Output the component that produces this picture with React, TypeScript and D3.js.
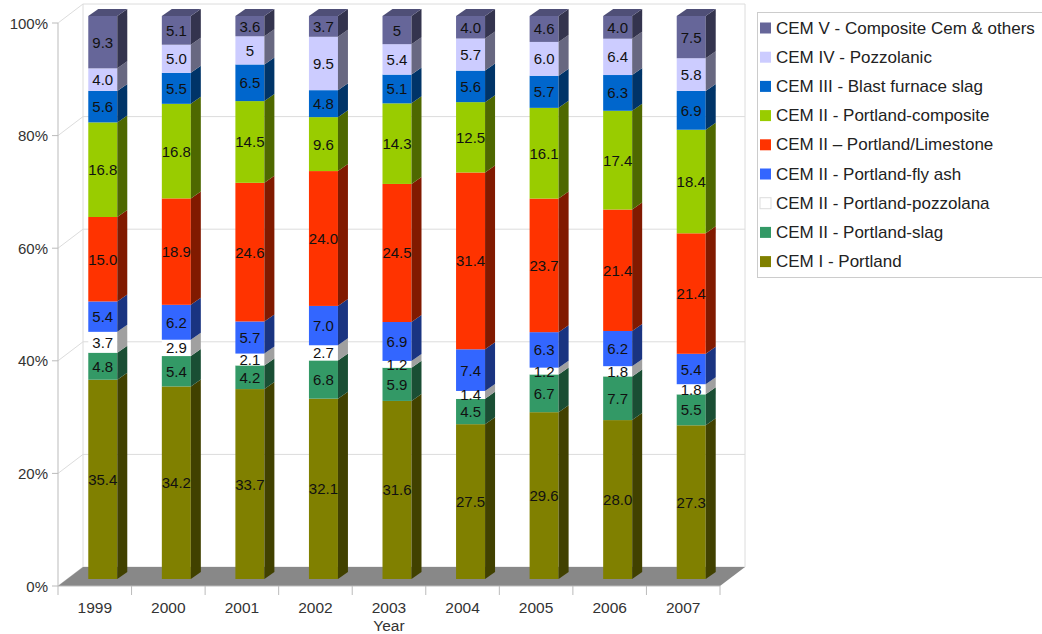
import React from "react";
import * as d3 from "d3";

const years = ["1999", "2000", "2001", "2002", "2003", "2004", "2005", "2006", "2007"];

// bottom to top
const seriesNames = [
  "CEM I - Portland",
  "CEM II - Portland-slag",
  "CEM II - Portland-pozzolana",
  "CEM II - Portland-fly ash",
  "CEM II – Portland/Limestone",
  "CEM II - Portland-composite",
  "CEM III - Blast furnace slag",
  "CEM IV - Pozzolanic",
  "CEM V - Composite Cem & others",
];

const cemI = ["35.4", "34.2", "33.7", "32.1", "31.6", "27.5", "29.6", "28.0", "27.3"];
const slag = ["4.8", "5.4", "4.2", "6.8", "5.9", "4.5", "6.7", "7.7", "5.5"];
const pozzolana = ["3.7", "2.9", "2.1", "2.7", "1.2", "1.4", "1.2", "1.8", "1.8"];
const flyAsh = ["5.4", "6.2", "5.7", "7.0", "6.9", "7.4", "6.3", "6.2", "5.4"];
const limestone = ["15.0", "18.9", "24.6", "24.0", "24.5", "31.4", "23.7", "21.4", "21.4"];
const composite = ["16.8", "16.8", "14.5", "9.6", "14.3", "12.5", "16.1", "17.4", "18.4"];
const blastFurnace = ["5.6", "5.5", "6.5", "4.8", "5.1", "5.6", "5.7", "6.3", "6.9"];
const pozzolanic = ["4.0", "5.0", "5", "9.5", "5.4", "5.7", "6.0", "6.4", "5.8"];
const cemV = ["9.3", "5.1", "3.6", "3.7", "5", "4.0", "4.6", "4.0", "7.5"];

const seriesLabels = [cemI, slag, pozzolana, flyAsh, limestone, composite, blastFurnace, pozzolanic, cemV];

const seriesColors = [
  "#808000",
  "#339966",
  "#ffffff",
  "#3366ff",
  "#ff3300",
  "#99cc00",
  "#0066cc",
  "#ccccff",
  "#666699",
];

const yTicks = [0, 20, 40, 60, 80, 100];

const W = 1042;
const H = 634;
const X0 = 58;
const X1 = 720;
const Y0 = 586;
const Y1 = 23;
const DX = 25;
const DY = -19;
const BAR_W = 29;
const BAR_SHIFT = 8;
const BDX = 10;
const BDY = -7;
const FRONT_DY = -7;
const FONT = "'Liberation Sans', Arial, sans-serif";

export default function App() {
  const keys = seriesNames.map((_, i) => "s" + i);
  const rows = years.map((y, j) => {
    const r: any = { year: y };
    keys.forEach((k, i) => (r[k] = parseFloat(seriesLabels[i][j])));
    return r;
  });
  const stacked = d3.stack().keys(keys).offset(d3.stackOffsetExpand)(rows);

  const x = d3.scaleBand().domain(years).range([X0, X1]).paddingInner(0).paddingOuter(0);
  const y = d3.scaleLinear().domain([0, 100]).range([Y0, Y1]);

  const pts = (arr: number[][]) => arr.map((p) => p.join(",")).join(" ");

  const bars: React.ReactNode[] = [];
  const labels: React.ReactNode[] = [];
  years.forEach((yr, j) => {
    const bx0 = (x(yr) as number) + (x.bandwidth() - BAR_W) / 2 + BAR_SHIFT;
    const bx1 = bx0 + BAR_W;
    stacked.forEach((s, i) => {
      const d = s[j];
      const yb = y(d[0] * 100) + FRONT_DY;
      const yt = y(d[1] * 100) + FRONT_DY;
      const c = seriesColors[i];
      const side = d3.color(c)!.darker(i === 2 ? 1.3 : 1.9).formatHex();
      bars.push(
        <g key={`b${j}-${i}`}>
          <rect x={bx0} y={yt} width={BAR_W} height={Math.max(0, yb - yt)} fill={c} />
          <polygon
            points={pts([
              [bx1, yb],
              [bx1 + BDX, yb + BDY],
              [bx1 + BDX, yt + BDY],
              [bx1, yt],
            ])}
            fill={side}
          />
        </g>
      );
      if (i === stacked.length - 1) {
        bars.push(
          <polygon
            key={`t${j}`}
            points={pts([
              [bx0, yt],
              [bx0 + BDX, yt + BDY],
              [bx1 + BDX, yt + BDY],
              [bx1, yt],
            ])}
            fill={d3.color(c)!.darker(0.7).formatHex()}
          />
        );
      }
      labels.push(
        <text
          key={`l${j}-${i}`}
          x={(bx0 + bx1) / 2}
          y={(yb + yt) / 2}
          textAnchor="middle"
          dominantBaseline="central"
          fontSize={15}
          fill="#111"
          fontFamily={FONT}
        >
          {seriesLabels[i][j]}
        </text>
      );
    });
  });

  const legendOrder = seriesNames.map((n, i) => ({ n, c: seriesColors[i] })).reverse();

  return (
    <svg
      width={W}
      height={H}
      viewBox={`0 0 ${W} ${H}`}
      style={{ position: "absolute", left: 0, top: 0, background: "#fff" }}
      fontFamily={FONT}
    >
      {/* back wall & left wall */}
      <g stroke="#dcdcdc" strokeWidth={1} fill="none">
        {yTicks.map((t) => (
          <polyline
            key={t}
            points={pts([
              [X0, y(t)],
              [X0 + DX, y(t) + DY],
              [X1 + DX, y(t) + DY],
            ])}
          />
        ))}
        <line x1={X0 + DX} x2={X0 + DX} y1={y(100) + DY} y2={y(0) + DY} />
        <line x1={X1 + DX} x2={X1 + DX} y1={y(100) + DY} y2={y(0) + DY} />
      </g>
      {/* floor */}
      <polygon
        points={pts([
          [X0, Y0],
          [X1, Y0],
          [X1 + DX, Y0 + DY],
          [X0 + DX, Y0 + DY],
        ])}
        fill="#888888"
      />
      {/* axes */}
      <g stroke="#bbbbbb" strokeWidth={1}>
        <line x1={X0} x2={X0} y1={y(100)} y2={Y0} />
        <line x1={X0} x2={X1} y1={Y0} y2={Y0} />
        {yTicks.map((t) => (
          <line key={t} x1={X0 - 6} x2={X0} y1={y(t)} y2={y(t)} />
        ))}
        {years.concat(["end"]).map((yr, j) => {
          const xx = X0 + j * x.bandwidth();
          return <line key={yr} x1={xx} x2={xx} y1={Y0} y2={Y0 + 9} />;
        })}
      </g>
      {yTicks.map((t) => (
        <text
          key={t}
          x={48}
          y={y(t)}
          textAnchor="end"
          dominantBaseline="central"
          fontSize={15}
          fill="#333"
        >
          {t + "%"}
        </text>
      ))}
      {years.map((yr) => (
        <text
          key={yr}
          x={(x(yr) as number) + x.bandwidth() / 2}
          y={607}
          textAnchor="middle"
          dominantBaseline="central"
          fontSize={15.5}
          fill="#333"
        >
          {yr}
        </text>
      ))}
      <text x={(X0 + X1) / 2} y={625} textAnchor="middle" dominantBaseline="central" fontSize={15.5} fill="#333">
        Year
      </text>
      {bars}
      {labels}
      {/* legend */}
      <rect x={757.5} y={12.5} width={300} height={265} fill="#fff" stroke="#cccccc" />
      {legendOrder.map((d, i) => {
        const cy = 28 + i * 29.2;
        return (
          <g key={d.n}>
            <rect
              x={760}
              y={cy - 5.5}
              width={11}
              height={11}
              fill={d.c}
              stroke={d.c === "#ffffff" ? "#dddddd" : "none"}
            />
            <text x={776} y={cy} dominantBaseline="central" fontSize={17} fill="#222">
              {d.n}
            </text>
          </g>
        );
      })}
    </svg>
  );
}
